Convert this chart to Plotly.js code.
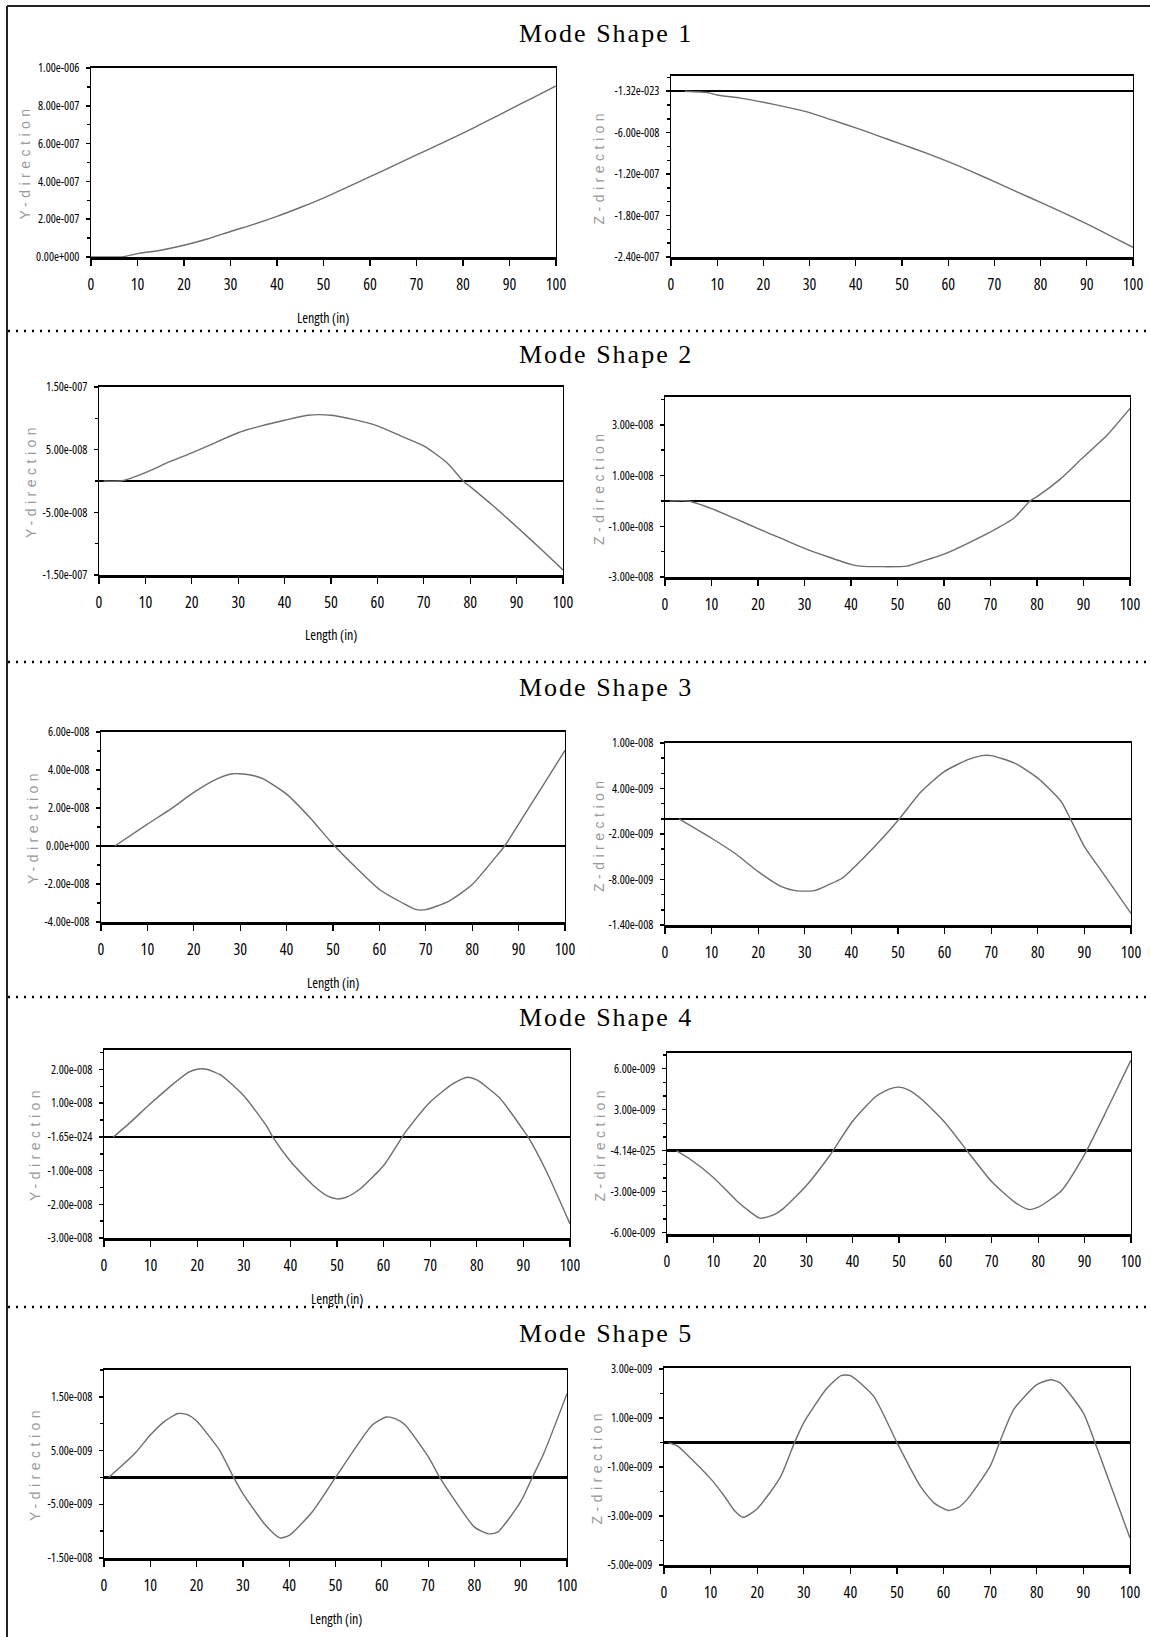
<!DOCTYPE html>
<html><head><meta charset="utf-8">
<script src="https://cdn.plot.ly/plotly-3.0.1.min.js"></script>
<style>
html,body{margin:0;padding:0;background:#fff;}
#chart{width:1150px;height:1637px;}
text.annotation-text[style*="Liberation Serif"]{letter-spacing:2px;}
text.annotation-text[style*="153, 153, 153"]{letter-spacing:4.5px;}
g[class$="tick"] > text{font-stretch:75%;}
text.annotation-text[style*="Open Sans"]{font-stretch:75%;}
</style></head><body><div id="chart"></div>
<script>
// ---------- text ----------
const modeTitles = ['Mode Shape 1','Mode Shape 2','Mode Shape 3','Mode Shape 4','Mode Shape 5'];
const lengthLabel = 'Length (in)';
const yDirLabel = 'Y-direction';
const zDirLabel = 'Z-direction';
const lengthTicks = [0,10,20,30,40,50,60,70,80,90,100];
const lengthTickText = ['0','10','20','30','40','50','60','70','80','90','100'];

// ---------- Mode 1 ----------
const m1Y_len = [0,3,7,10,15,20,25,30,35,40,45,50,55,60,65,70,75,80,85,90,95,100];
const m1Y_val = [0,0,0.002e-6,0.018e-6,0.036e-6,0.062e-6,0.095e-6,0.135e-6,0.173e-6,0.215e-6,0.262e-6,0.312e-6,0.368e-6,0.425e-6,0.482e-6,0.54e-6,0.597e-6,0.655e-6,0.717e-6,0.78e-6,0.842e-6,0.905e-6];
const m1Y_ticks = [0,2e-7,4e-7,6e-7,8e-7,1e-6];
const m1Y_tickText = ['0.00e+000','2.00e-007','4.00e-007','6.00e-007','8.00e-007','1.00e-006'];

const m1Z_len = [3,8,10,15,20,25,30,35,40,45,50,55,60,65,70,75,80,85,90,95,100];
const m1Z_val = [0,-0.2e-8,-0.55e-8,-1.0e-8,-1.6e-8,-2.3e-8,-3.1e-8,-4.2e-8,-5.3e-8,-6.5e-8,-7.7e-8,-8.9e-8,-1.02e-7,-1.16e-7,-1.31e-7,-1.46e-7,-1.61e-7,-1.76e-7,-1.92e-7,-2.09e-7,-2.26e-7];
const m1Z_ticks = [0,-6e-8,-1.2e-7,-1.8e-7,-2.4e-7];
const m1Z_tickText = ['-1.32e-023','-6.00e-008','-1.20e-007','-1.80e-007','-2.40e-007'];

// ---------- Mode 2 ----------
const m2Y_len = [1,5,10,15,20,25,30,35,40,45,50,55,60,65,70,75,78.5,80,85,90,95,100];
const m2Y_val = [0,0.003e-7,0.133e-7,0.30e-7,0.45e-7,0.61e-7,0.77e-7,0.88e-7,0.97e-7,1.05e-7,1.05e-7,0.98e-7,0.88e-7,0.72e-7,0.56e-7,0.29e-7,0,-0.09e-7,-0.40e-7,-0.73e-7,-1.07e-7,-1.42e-7];
const m2Y_ticks = [1.5e-7,5e-8,-5e-8,-1.5e-7];
const m2Y_tickText = ['1.50e-007','5.00e-008','-5.00e-008','-1.50e-007'];

const m2Z_len = [1,5,10,15,20,25,30,35,40,42,52,55,60,65,70,75,78.5,80,85,90,95,100];
const m2Z_val = [0,0,-0.30e-8,-0.69e-8,-1.09e-8,-1.48e-8,-1.87e-8,-2.2e-8,-2.5e-8,-2.57e-8,-2.57e-8,-2.4e-8,-2.1e-8,-1.68e-8,-1.22e-8,-0.68e-8,0,0.17e-8,0.86e-8,1.73e-8,2.58e-8,3.65e-8];
const m2Z_ticks = [3e-8,1e-8,-1e-8,-3e-8];
const m2Z_tickText = ['3.00e-008','1.00e-008','-1.00e-008','-3.00e-008'];

// ---------- Mode 3 ----------
const m3Y_len = [3,10,15,20,25,28,30,33,35,40,45,50,55,60,65,68,70,75,80,85,87,90,95,100];
const m3Y_val = [0,1.15e-8,1.94e-8,2.82e-8,3.53e-8,3.79e-8,3.8e-8,3.7e-8,3.53e-8,2.73e-8,1.5e-8,0.09e-8,-1.15e-8,-2.29e-8,-3.0e-8,-3.35e-8,-3.35e-8,-2.9e-8,-2.03e-8,-0.6e-8,0,1.15e-8,3.09e-8,5.03e-8];
const m3Y_ticks = [6e-8,4e-8,2e-8,0,-2e-8,-4e-8];
const m3Y_tickText = ['6.00e-008','4.00e-008','2.00e-008','0.00e+000','-2.00e-008','-4.00e-008'];

const m3Z_len = [3,10,15,20,25,28,32,35,38,40,45,50,55,60,65,68,70,75,80,85,87,90,93,95,100];
const m3Z_val = [0,-2.56e-9,-4.54e-9,-6.96e-9,-8.94e-9,-9.47e-9,-9.47e-9,-8.72e-9,-7.84e-9,-6.74e-9,-3.66e-9,-0.22e-9,3.6e-9,6.26e-9,7.8e-9,8.33e-9,8.33e-9,7.36e-9,5.37e-9,2.29e-9,0,-3.66e-9,-6.3e-9,-8.06e-9,-12.47e-9];
const m3Z_ticks = [1e-8,4e-9,-2e-9,-8e-9,-1.4e-8];
const m3Z_tickText = ['1.00e-008','4.00e-009','-2.00e-009','-8.00e-009','-1.40e-008'];

// ---------- Mode 4 ----------
const m4Y_len = [2,5,10,15,18,20,22,25,30,35,36.2,40,45,48,50,52,55,60,64,65,70,75,78,80,85,90,91,95,100];
const m4Y_val = [0,0.35e-8,0.99e-8,1.59e-8,1.91e-8,2.01e-8,2.01e-8,1.84e-8,1.22e-8,0.3e-8,0,-0.72e-8,-1.45e-8,-1.76e-8,-1.84e-8,-1.79e-8,-1.54e-8,-0.85e-8,0,0.2e-8,1.04e-8,1.59e-8,1.77e-8,1.69e-8,1.14e-8,0.2e-8,0,-1.04e-8,-2.58e-8];
const m4Y_ticks = [2e-8,1e-8,0,-1e-8,-2e-8,-3e-8];
const m4Y_tickText = ['2.00e-008','1.00e-008','-1.65e-024','-1.00e-008','-2.00e-008','-3.00e-008'];

const m4Z_len = [2,5,10,15,18,20,23,25,30,35,40,45,48,50,52,55,60,65,70,75,78,80,85,90,95,100];
const m4Z_val = [0,-0.63e-9,-1.96e-9,-3.66e-9,-4.5e-9,-4.94e-9,-4.7e-9,-4.26e-9,-2.57e-9,-0.39e-9,2.15e-9,3.97e-9,4.53e-9,4.65e-9,4.45e-9,3.73e-9,2.03e-9,-0.15e-9,-2.28e-9,-3.78e-9,-4.31e-9,-4.14e-9,-2.93e-9,-0.27e-9,3.12e-9,6.63e-9];
const m4Z_ticks = [6e-9,3e-9,0,-3e-9,-6e-9];
const m4Z_tickText = ['6.00e-009','3.00e-009','-4.14e-025','-3.00e-009','-6.00e-009'];

// ---------- Mode 5 ----------
const m5Y_len = [1,4,7,10,13,16,18,20,25,28,30,35,38,40,45,50,55,58,61,63,65,70,72.5,75,80,83,85,90,92.5,95,100];
const m5Y_val = [0,2.3e-9,4.8e-9,7.9e-9,10.4e-9,11.9e-9,11.7e-9,10.5e-9,5.0e-9,0,-3.0e-9,-9.0e-9,-11.25e-9,-10.8e-9,-6.4e-9,0,6.4e-9,9.8e-9,11.25e-9,10.9e-9,9.8e-9,3.9e-9,0,-3.3e-9,-9.25e-9,-10.5e-9,-10.2e-9,-4.5e-9,0,4.5e-9,15.6e-9];
const m5Y_ticks = [1.5e-8,5e-9,-5e-9,-1.5e-8];
const m5Y_tickText = ['1.50e-008','5.00e-009','-5.00e-009','-1.50e-008'];

const m5Z_len = [1,3,5,10,13,15,17,20,25,28,30,35,38,40,45,50,55,58,61,63,65,70,72,75,80,83,85,90,92.5,95,100];
const m5Z_val = [0,-0.15e-9,-0.5e-9,-1.47e-9,-2.2e-9,-2.75e-9,-3.05e-9,-2.7e-9,-1.4e-9,0,0.82e-9,2.23e-9,2.74e-9,2.74e-9,1.89e-9,0,-1.78e-9,-2.47e-9,-2.77e-9,-2.67e-9,-2.33e-9,-0.96e-9,0,1.34e-9,2.37e-9,2.57e-9,2.44e-9,1.21e-9,0,-1.3e-9,-3.9e-9];
const m5Z_ticks = [3e-9,1e-9,-1e-9,-3e-9,-5e-9];
const m5Z_tickText = ['3.00e-009','1.00e-009','-1.00e-009','-3.00e-009','-5.00e-009'];

// ---------- panel options (axis ranges, minor tick steps, frame boxes in px) ----------
const W = 1150, H = 1637;
const panels = [
  {x:m1Y_len, y:m1Y_val, tv:m1Y_ticks, tt:m1Y_tickText, range:[0,1e-6],        minor:1e-7, box:[91,556,68,257],    lab:yDirLabel, labX:24},
  {x:m1Z_len, y:m1Z_val, tv:m1Z_ticks, tt:m1Z_tickText, range:[-2.4e-7,2.2e-8], minor:2e-8, box:[671,1133,76,257],  lab:zDirLabel, labX:599},
  {x:m2Y_len, y:m2Y_val, tv:m2Y_ticks, tt:m2Y_tickText, range:[-1.5e-7,1.5e-7], minor:5e-8, box:[99,563,387,575],   lab:yDirLabel, labX:31},
  {x:m2Z_len, y:m2Z_val, tv:m2Z_ticks, tt:m2Z_tickText, range:[-3e-8,4.1e-8],   minor:1e-8, box:[665,1130,397,577], lab:zDirLabel, labX:599},
  {x:m3Y_len, y:m3Y_val, tv:m3Y_ticks, tt:m3Y_tickText, range:[-4e-8,6e-8],     minor:1e-8, box:[101,565,732,922],  lab:yDirLabel, labX:33},
  {x:m3Z_len, y:m3Z_val, tv:m3Z_ticks, tt:m3Z_tickText, range:[-1.4e-8,1e-8],   minor:2e-9, box:[665,1131,743,925], lab:zDirLabel, labX:599},
  {x:m4Y_len, y:m4Y_val, tv:m4Y_ticks, tt:m4Y_tickText, range:[-3e-8,2.58e-8],  minor:5e-9, box:[104,570,1050,1238],lab:yDirLabel, labX:35},
  {x:m4Z_len, y:m4Z_val, tv:m4Z_ticks, tt:m4Z_tickText, range:[-6.1e-9,7.15e-9],minor:1e-9, box:[667,1131,1053,1234],lab:zDirLabel, labX:599},
  {x:m5Y_len, y:m5Y_val, tv:m5Y_ticks, tt:m5Y_tickText, range:[-1.5e-8,2.0e-8], minor:5e-9, box:[104,567,1370,1558],lab:yDirLabel, labX:35},
  {x:m5Z_len, y:m5Z_val, tv:m5Z_ticks, tt:m5Z_tickText, range:[-5e-9,3.05e-9],  minor:1e-9, box:[664,1130,1368,1565],lab:zDirLabel, labX:596}
];
const titleY = [33,355,687,1017,1333];
const lengthLabelY = [317,635,982,1298,1618];
const separatorY = [331,662,997,1307];

const narrow = 'Open Sans, DejaVu Sans Condensed, sans-serif';
const fx = px => px / W;
const fy = py => 1 - py / H;

const data = [];
const layout = {
  width: W, height: H,
  margin: {l:0, r:0, t:0, b:0},
  paper_bgcolor: '#fff', plot_bgcolor: '#fff',
  showlegend: false,
  annotations: [], shapes: []
};

panels.forEach((p, i) => {
  const n = i + 1;
  const xa = n === 1 ? 'x' : 'x' + n;
  const ya = n === 1 ? 'y' : 'y' + n;
  data.push({
    type: 'scatter', mode: 'lines', x: p.x, y: p.y, xaxis: xa, yaxis: ya,
    line: {color: '#6e6e6e', width: 1.4, shape: 'spline', smoothing: 0.6},
    hoverinfo: 'skip'
  });
  const [l, r, t, b] = p.box;
  layout['xaxis' + (n === 1 ? '' : n)] = {
    domain: [fx(l), fx(r)], anchor: ya, range: [0, 100],
    tickmode: 'array', tickvals: lengthTicks, ticktext: lengthTickText,
    ticks: 'outside', ticklen: 6, tickwidth: 1.2, tickcolor: '#000',
    ticklabelstandoff: 5,
    tickfont: {family: narrow, size: 16, color: '#000'},
    showline: true, mirror: true, linecolor: '#000', linewidth: 2.5,
    showgrid: false, zeroline: false, fixedrange: true
  };
  layout['yaxis' + (n === 1 ? '' : n)] = {
    domain: [fy(b), fy(t)], anchor: xa, range: p.range,
    tickmode: 'array', tickvals: p.tv, ticktext: p.tt,
    ticks: 'outside', ticklen: 4, tickwidth: 1.5, tickcolor: '#000',
    ticklabelstandoff: 4,
    tickfont: {family: narrow, size: 12, color: '#000'},
    minor: {tickmode: 'linear', tick0: 0, dtick: p.minor, ticks: 'outside', ticklen: 3, tickwidth: 1.5, tickcolor: '#000', showgrid: false},
    showline: true, mirror: true, linecolor: '#000', linewidth: 1.2,
    showgrid: false, zeroline: true, zerolinecolor: '#000', zerolinewidth: 2.5,
    fixedrange: true
  };
  layout.annotations.push({
    xref: 'paper', yref: 'paper', x: fx(p.labX), y: fy((t + b) / 2),
    text: p.lab, textangle: -90, showarrow: false,
    xanchor: 'center', yanchor: 'middle',
    font: {family: 'Liberation Sans, Arial, sans-serif', size: 14, color: '#999999'}
  });
  if (i % 2 === 0) {
    const row = i / 2;
    layout.annotations.push({
      xref: 'paper', yref: 'paper', x: fx((l + r) / 2), y: fy(lengthLabelY[row]),
      text: lengthLabel, showarrow: false, xanchor: 'center', yanchor: 'middle',
      font: {family: narrow, size: 14, color: '#000'}
    });
  }
});

modeTitles.forEach((t, k) => {
  layout.annotations.push({
    xref: 'paper', yref: 'paper', x: fx(606), y: fy(titleY[k]),
    text: t, showarrow: false, xanchor: 'center', yanchor: 'middle',
    font: {family: 'Liberation Serif, Times New Roman, serif', size: 26, color: '#000'}
  });
});

separatorY.forEach(py => {
  layout.shapes.push({
    type: 'line', xref: 'paper', yref: 'paper', x0: fx(8), x1: 1, y0: fy(py), y1: fy(py),
    line: {color: '#000', width: 2.5, dash: '2px,6px'}
  });
});
layout.shapes.push({type:'line', xref:'paper', yref:'paper', x0: fx(7), x1: 1, y0: fy(6), y1: fy(6), line:{color:'#222', width:2}});
layout.shapes.push({type:'line', xref:'paper', yref:'paper', x0: fx(7), x1: fx(7), y0: fy(6), y1: 0, line:{color:'#222', width:2}});

Plotly.newPlot('chart', data, layout, {staticPlot: true, displayModeBar: false});
</script></body></html>
